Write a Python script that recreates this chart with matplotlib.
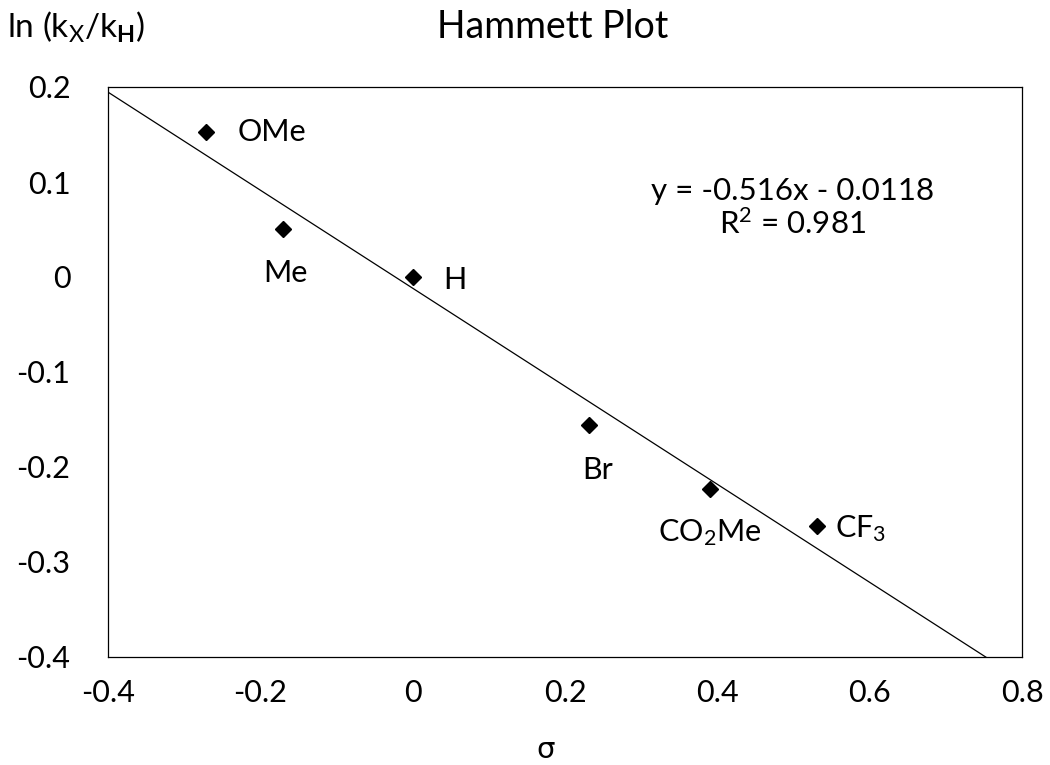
import numpy as np
import matplotlib
matplotlib.use("Agg")
import matplotlib.pyplot as plt

# substituent constants (sigma) and ln(kX/kH)
labels = ["OMe", "Me", "H", "Br", "CO$_2$Me", "CF$_3$"]
sigma = [-0.271, -0.170, 0.0, 0.231, 0.390, 0.531]
ln_ratio = [0.153, 0.050, 0.0, -0.156, -0.223, -0.262]

slope = -0.516
intercept = -0.0118
r2 = 0.981

xticks = [-0.4, -0.2, 0, 0.2, 0.4, 0.6, 0.8]
yticks = [0.2, 0.1, 0, -0.1, -0.2, -0.3, -0.4]

# label offsets in pixels from each point
offsets = [(31, 0), (2, -44), (31, -3), (9, -45), (0, -44), (18, -3)]
aligns = ["left", "center", "left", "center", "center", "left"]

plt.rcParams["font.family"] = ["Lato", "DejaVu Sans"]
plt.rcParams["mathtext.fontset"] = "custom"
plt.rcParams["mathtext.rm"] = "Lato"
plt.rcParams["mathtext.it"] = "Lato"
plt.rcParams["mathtext.bf"] = "Lato:bold"

fig = plt.figure(figsize=(10.5, 7.65), dpi=100)
ax = fig.add_axes([108 / 1050, 1 - 657 / 765, (1022 - 108) / 1050, (657 - 87) / 765])

xs = np.array([-0.4, 0.8])
ax.plot(xs, slope * xs + intercept, color="black", lw=0.9)
ax.plot(sigma, ln_ratio, "D", color="black", markersize=8.5, ls="none")

for lab, x, y, off, ha in zip(labels, sigma, ln_ratio, offsets, aligns):
    ax.annotate(lab, (x, y), xytext=off, textcoords="offset pixels",
                ha=ha, va="center", fontsize=22)

ax.text(0.499, 0.0726, f"y = {slope}x - {abs(intercept)}\nR$^2$ = {r2}",
        ha="center", va="center", fontsize=22.5, linespacing=1.15)

ax.set_xlim(-0.4, 0.8)
ax.set_ylim(-0.4, 0.2)
ax.set_xticks(xticks)
ax.set_xticklabels(["-0.4", "-0.2", "0", "0.2", "0.4", "0.6", "0.8"])
ax.set_yticks(yticks)
ax.set_yticklabels(["0.2", "0.1", "0", "-0.1", "-0.2", "-0.3", "-0.4"])
ax.tick_params(axis="y", labelsize=22, length=0, pad=27)
ax.tick_params(axis="x", labelsize=22, length=0, pad=16)
for sp in ax.spines.values():
    sp.set_linewidth(0.9)

fig.text(553 / 1050, 1 - 27 / 765, "Hammett Plot", ha="center", va="center", fontsize=27)
fig.text(7 / 1050, 1 - 27 / 765, r"ln (k$_\mathrm{X}$/k$_\mathbf{H}$)", ha="left", va="center", fontsize=24)
fig.text(546 / 1050, 1 - 750 / 765, "σ", ha="center", va="center", fontsize=21, family=["DejaVu Sans"])

fig.savefig("out.png", dpi=100)
